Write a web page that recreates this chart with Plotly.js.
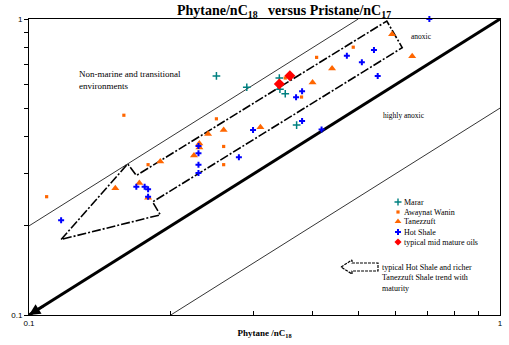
<!DOCTYPE html>
<html><head><meta charset="utf-8">
<script src="https://cdn.plot.ly/plotly-3.0.1.min.js"></script>
<style>html,body{margin:0;padding:0;background:#fff}#chart{width:509px;height:345px}</style>
</head><body><div id="chart"></div>
<script>
// ---- data (Phytane/nC18 on x, Pristane/nC17 on y) ----
const mararPh = [0.250,0.290,0.340,0.341,0.350,0.370];
const mararPr = [0.642,0.588,0.632,0.579,0.559,0.438];
const awaynatPh = [0.109,0.159,0.179,0.250,0.259,0.259,0.350,0.379,0.408,0.488];
const awaynatPr = [0.251,0.473,0.322,0.460,0.371,0.322,0.632,0.545,0.742,0.803];
const tanezzuftPh = [0.1525,0.1715,0.179,0.190,0.224,0.230,0.230,0.240,0.259,0.310,0.400,0.440,0.590,0.651];
const tanezzuftPr = [0.268,0.279,0.249,0.330,0.346,0.380,0.368,0.409,0.422,0.431,0.610,0.680,0.888,0.748];
const hotShalePh = [0.117,0.169,0.176,0.179,0.179,0.229,0.229,0.229,0.229,0.279,0.299,0.369,0.380,0.380,0.418,0.473,0.509,0.540,0.550,0.708];
const hotShalePr = [0.209,0.271,0.271,0.266,0.251,0.372,0.352,0.322,0.302,0.341,0.422,0.544,0.570,0.452,0.423,0.751,0.714,0.786,0.642,1.0];
const oilPh = [0.340,0.358];
const oilPr = [0.603,0.643];

// reference lines and trend outline
const oneToOneX = [0.1,1],   oneToOneY = [0.1,1];
const upperX = [0.1,0.5],    upperY = [0.2,1];
const lowerX = [0.2,1],      lowerY = [0.1,0.5];
const trendX = [0.117,0.162,0.169,0.575,0.620,0.183,0.190,0.117];
const trendY = [0.180,0.324,0.296,0.984,0.800,0.241,0.218,0.180];

const majorTicks = [0.1,1];
const majorText = ['0.1','1'];
const minorTicks = [0.2,0.3,0.4,0.5,0.6,0.7,0.8,0.9];

const legendNames = ['Marar','Awaynat Wanin','Tanezzuft','Hot Shale','typical mid mature oils'];

const TEAL='#008080', ORANGE='#FF6600', BLUE='#0000FF', RED='#FF0000';
const SERIF='Liberation Serif, Times New Roman, serif';
const SANS='Liberation Sans, Arial, sans-serif';

// px helper axes (x2/y2) map directly to page pixels inside the plot area
const L=29, R=500, T=19, B=315;

const traces = [
  {x:oneToOneX, y:oneToOneY, mode:'lines', line:{color:'black', width:3}, hoverinfo:'skip'},
  {x:upperX, y:upperY, mode:'lines', line:{color:'black', width:0.8}, hoverinfo:'skip'},
  {x:lowerX, y:lowerY, mode:'lines', line:{color:'black', width:0.8}, hoverinfo:'skip'},
  {x:trendX, y:trendY, mode:'lines', line:{color:'black', width:1.6, dash:'9px,2px,2px,2px'}, hoverinfo:'skip'},
  {x:awaynatPh, y:awaynatPr, mode:'markers', name:legendNames[1], marker:{symbol:'square', size:3.2, color:ORANGE}},
  {x:tanezzuftPh, y:tanezzuftPr, mode:'markers', name:legendNames[2], marker:{symbol:'triangle-up', size:7, color:ORANGE}},
  {x:mararPh, y:mararPr, mode:'markers', name:legendNames[0], marker:{symbol:'cross-thin-open', size:5.5, color:TEAL, line:{color:TEAL, width:1.5}}},
  {x:hotShalePh, y:hotShalePr, mode:'markers', name:legendNames[3], marker:{symbol:'cross', size:5, color:BLUE}},
  {x:oilPh, y:oilPr, mode:'markers', name:legendNames[4], marker:{symbol:'diamond', size:8.5, color:RED}},
];
traces.forEach(t=>{t.showlegend=false; t.cliponaxis=false;});

// legend symbols (drawn on pixel helper axes)
const legY = [202,212,221.5,232,242];
const legSym = [
  {symbol:'cross-thin-open', size:5, color:TEAL, line:{color:TEAL,width:1.4}},
  {symbol:'square', size:3.2, color:ORANGE},
  {symbol:'triangle-up', size:6, color:ORANGE},
  {symbol:'cross', size:5, color:BLUE},
  {symbol:'diamond', size:5.5, color:RED},
];
legSym.forEach((m,i)=>traces.push({x:[398], y:[legY[i]], xaxis:'x2', yaxis:'y2', mode:'markers', marker:m, showlegend:false, cliponaxis:false, hoverinfo:'skip'}));
traces.push({x:[341,352,352,378,378,352,352,341], y:[267,260,263,263,271,271,274,267], xaxis:'x2', yaxis:'y2', mode:'lines',
  line:{color:'black', width:1.2, dash:'3px,1px'}, showlegend:false, cliponaxis:false, hoverinfo:'skip'});

const annotations = [];
function txt(x,y,text,size,xanchor){
  annotations.push({xref:'x2', yref:'y2', x:x, y:y, text:text, showarrow:false, xanchor:xanchor||'left', yanchor:'middle',
    align:'left', font:{family:SERIF, size:size, color:'black'}});
}
txt(77,80,'Non-marine and transitional<br>environments',9);
txt(421,36,'anoxic',7.5,'center');
txt(404,115,'highly anoxic',7.5,'center');
legendNames.forEach((n,i)=>txt(402,legY[i],n,8));
txt(380,278,'typical Hot Shale and richer<br>Tanezzuft Shale trend with<br>maturity',8);
// y axis title
annotations.push({xref:'x2', yref:'y2', x:13, y:187, text:'<b>pristane/nC<sub>17</sub></b>', textangle:-90, showarrow:false,
  font:{family:SERIF, size:9, color:'black'}});
// arrowhead on the 1:1 line
annotations.push({xref:'x2', yref:'y2', x:L, y:B, ax:16, ay:-10, text:'', showarrow:true, arrowhead:2, arrowsize:0.9, arrowwidth:2.5, arrowcolor:'black', standoff:0});

const axisCommon = {type:'log', range:[-1,0], tickmode:'array', tickvals:majorTicks, ticktext:majorText, ticklen:4, tickcolor:'black',
  showline:true, linecolor:'black', linewidth:1, mirror:true, showgrid:false, zeroline:false,
  tickfont:{family:SANS, size:8, color:'black'}};

const layout = {
  width:509, height:345,
  margin:{l:L, r:509-R, t:T, b:345-B, pad:0},
  paper_bgcolor:'#fff', plot_bgcolor:'#fff',
  showlegend:false,
  title:{text:'Phytane/nC<sub>18</sub>&nbsp;&nbsp; versus Pristane/nC<sub>17</sub>', x:284/509, xanchor:'center', xref:'container',
    y:1-10/345, yanchor:'middle', font:{family:SERIF, size:14, color:'black', weight:'bold'}},
  xaxis:Object.assign({}, axisCommon, {ticks:'inside',
    minor:{tickmode:'array', tickvals:minorTicks, ticks:'inside', ticklen:4, tickcolor:'black', showgrid:false},
    title:{text:'<b>Phytane /nC<sub>18</sub></b>', font:{family:SERIF, size:9, color:'black'}, standoff:3}}),
  yaxis:Object.assign({}, axisCommon, {ticks:'outside',
    minor:{tickmode:'array', tickvals:minorTicks, ticks:'outside', ticklen:4, tickcolor:'black', showgrid:false}}),
  xaxis2:{overlaying:'x', range:[L,R], visible:false, anchor:'y2', fixedrange:true},
  yaxis2:{overlaying:'y', range:[B,T], visible:false, anchor:'x2', fixedrange:true},
  annotations:annotations
};

Plotly.newPlot('chart', traces, layout, {displayModeBar:false, staticPlot:true});
</script>
</body></html>
